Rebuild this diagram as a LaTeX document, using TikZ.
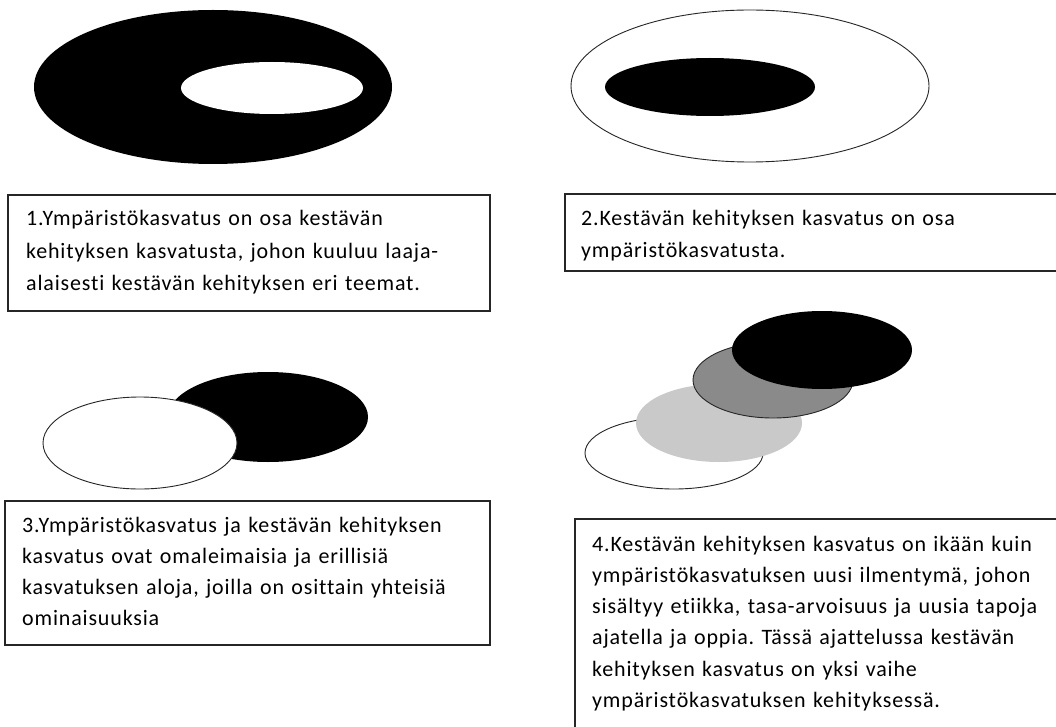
\documentclass[tikz,border=0pt]{standalone}
\usepackage{fontspec}
\setmainfont{Carlito}[LetterSpace=3.8, Ligatures=NoCommon]
\usepackage{tikz}

\definecolor{midgray}{gray}{0.54}
\definecolor{lightgray}{gray}{0.79}

\begin{document}
\frenchspacing
\begin{tikzpicture}[
        x=1pt, y=-1pt,
        rim/.style={draw=black!85, line width=0.9pt},
        frame/.style={draw=black!85, line width=1.3pt},
        caption/.style={anchor=base west, inner sep=0pt, text width=470pt, align=left,
            font=\fontsize{22}{32.3}\selectfont},
        caption2/.style={caption, font=\fontsize{22}{31.3}\selectfont}
    ]
        \useasboundingbox (0,0) rectangle (1056,727);
        \fill[white] (0,0) rectangle (1056,727);

        % Panel 1: hole inside black ellipse
        \fill[black] (213,87) ellipse (179 and 77);
        \fill[white] (272,88) ellipse (91 and 26);
        \draw[frame] (8,195) rectangle (490,311);
        \node[caption] (txt1) at (26,225.7) {1.Ympäristökasvatus on osa kestävän\\
            kehityksen kasvatusta, johon kuuluu laaja-\\
            alaisesti kestävän kehityksen eri teemat.};

        % Panel 2: black ellipse inside outlined ellipse
        \draw[rim, fill=white] (750,86) ellipse (179 and 76);
        \fill[black] (710,87) ellipse (105 and 29);
        \draw[frame] (565,194) rectangle (1075,271);
        \node[caption] (txt2) at (581,225.3) {2.Kestävän kehityksen kasvatus on osa\\
            ympäristökasvatusta.};

        % Panel 3: two overlapping ellipses
        \fill[black] (268,417) ellipse (100 and 45);
        \draw[rim, fill=white] (140,443) ellipse (97 and 46);
        \draw[frame] (5,501) rectangle (490,645);
        \node[caption2] (txt3) at (22,532) {3.Ympäristökasvatus ja kestävän kehityksen\\
            kasvatus ovat omaleimaisia ja erillisiä\\
            kasvatuksen aloja, joilla on osittain yhteisiä\\
            ominaisuuksia};

        % Panel 4: stack of ellipses
        \draw[rim, fill=white] (674,453) ellipse (89 and 36);
        \fill[lightgray] (719,423) ellipse (83 and 39);
        \draw[rim, fill=midgray] (773,380) ellipse (80 and 38);
        \fill[black] (822,350) ellipse (90 and 39);
        \draw[frame] (575,519) rectangle (1075,745);
        \node[caption2] (txt4) at (592,551) {4.Kestävän kehityksen kasvatus on ikään kuin\\
            ympäristökasvatuksen uusi ilmentymä, johon\\
            sisältyy etiikka, tasa-arvoisuus ja uusia tapoja\\
            ajatella ja oppia. Tässä ajattelussa kestävän\\
            kehityksen kasvatus on yksi vaihe\\
            ympäristökasvatuksen kehityksessä.};
    \end{tikzpicture}
\end{document}
